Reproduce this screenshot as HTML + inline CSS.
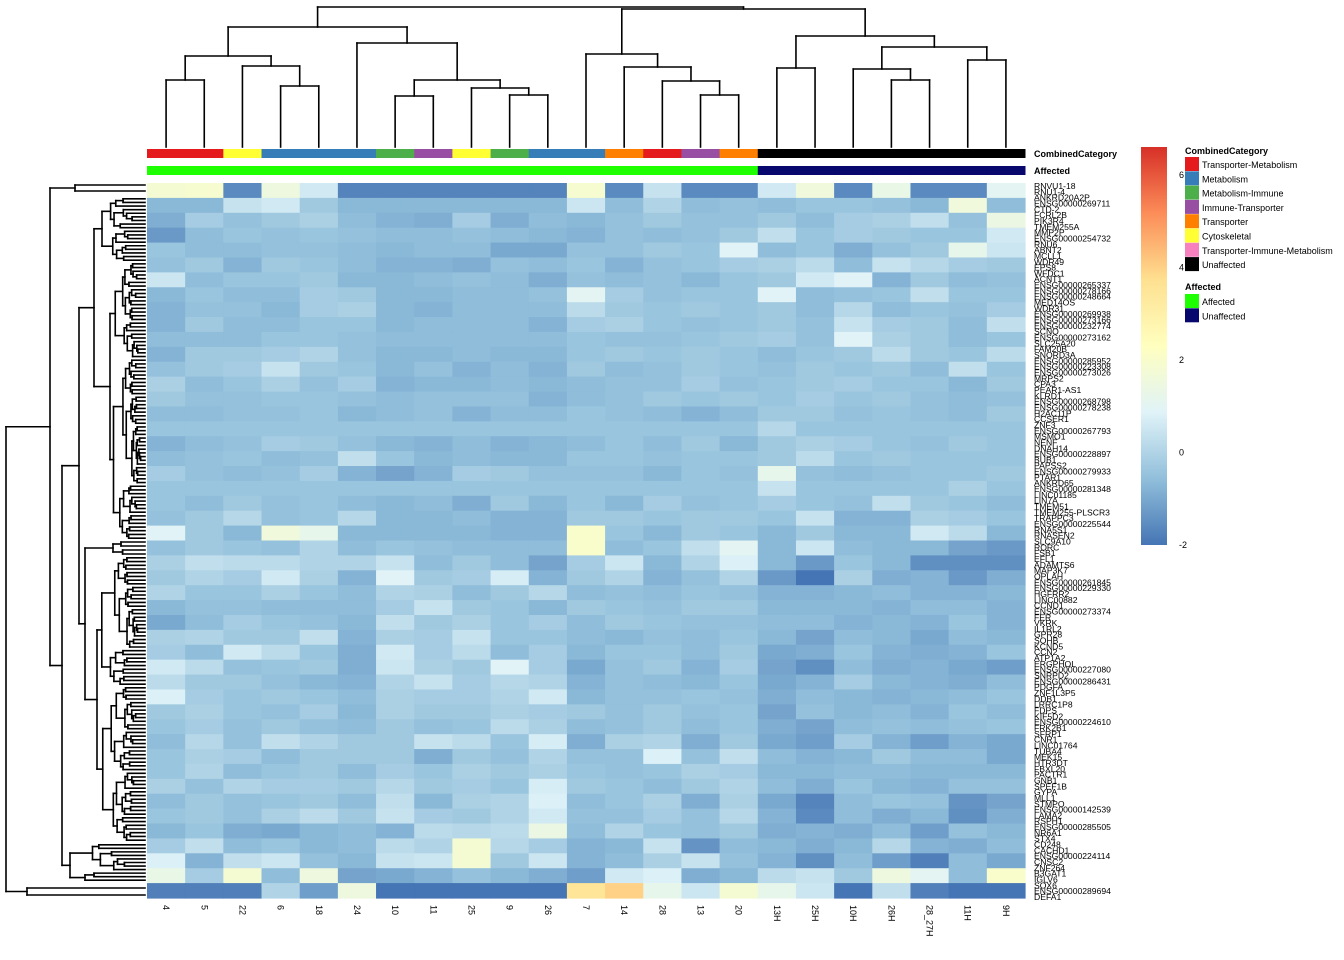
<!DOCTYPE html>
<html><head><meta charset="utf-8"><style>
html,body{margin:0;padding:0;background:#fff;}
svg{display:block;font-family:"Liberation Sans",Arial,sans-serif;}
</style></head><body>
<svg id="chart" width="1344" height="960" viewBox="0 0 1344 960" xmlns="http://www.w3.org/2000/svg">
<g id="dendroTop"></g>
<g id="dendroLeft"></g>
<g id="annot"></g>
<g id="cells"></g>
<g id="rowLabels"></g>
<g id="colLabels"></g>
<g id="legend"></g>
</svg>
<script>
const columns = ["4","5","22","6","18","24","10","11","25","9","26","7","14","28","13","20","13H","25H","10H","26H","28_27H","11H","9H"];
const columnCategory = ["Transporter-Metabolism","Transporter-Metabolism","Cytoskeletal","Metabolism","Metabolism","Metabolism","Metabolism-Immune","Immune-Transporter","Cytoskeletal","Metabolism-Immune","Metabolism","Metabolism","Transporter","Transporter-Metabolism","Immune-Transporter","Transporter","Unaffected","Unaffected","Unaffected","Unaffected","Unaffected","Unaffected","Unaffected"];
const columnAffected = ["Affected","Affected","Affected","Affected","Affected","Affected","Affected","Affected","Affected","Affected","Affected","Affected","Affected","Affected","Affected","Affected","Unaffected","Unaffected","Unaffected","Unaffected","Unaffected","Unaffected","Unaffected"];
const categoryNames = ["Transporter-Metabolism","Metabolism","Metabolism-Immune","Immune-Transporter","Transporter","Cytoskeletal","Transporter-Immune-Metabolism","Unaffected"];
const categoryColors = ["#e41a1c","#377eb8","#4daf4a","#984ea3","#ff7f00","#ffff33","#f781bf","#000000"];
const affectedNames = ["Affected","Unaffected"];
const affectedColors = ["#1eff00","#07076e"];
const scaleTicks = [6,4,2,0,-2];
const rowNames = ["RNVU1-18","RNU1-4","ANKRD20A2P","ENSG00000269711","CTD-2","FCRL2B","PIK3R4","TMEM255A","MMP2P","ENSG00000254732","RNU6","ABNT2","MCLL1","WDR49","EPS8","WFDC1","ACNT1","ENSG00000265337","ENSG00000278166","ENSG00000248664","MED14OS","WDR31","ENSG00000269938","ENSG00000273166","ENSG00000232774","SCNO","ENSG00000273162","SLC25A20","FAM20B","SNORD3A","ENSG00000285952","ENSG00000223308","ENSG00000273026","MRPS2","CPA3","PEAR1-AS1","KLRD1","ENSG00000268798","ENSG00000278238","H2AC11P","CCSER1","ZNF3","ENSG00000267793","MSMO1","NENF","DNAH14","ENSG00000228897","BUB1","PAPSS2","ENSG00000279933","PTAR1","ANKRD65","ENSG00000281348","LINC01185","LIN7A","TMEM51","TMEM255-PLSCR3","TRAPPC3","ENSG00000225544","RNA5S1","RNASEN2","SLC9A10","RORC","FSB1","EFL1","ADAMTS6","MAP3K7","OPLAH","ENSG00000261845","ENSG00000229330","HGFRR2","LINC00882","CCND1","ENSG00000273374","FER","VKRK","IL1RL2","GPR28","SOHB","KCND5","CCN2","ATP1A2","ERGPHOL","ENSG00000227080","SNRPD2","ENSG00000286431","PDGFA","ZNF1L3P5","DDB1","LRRC1P8","FDPS","KIF5D2","ENSG00000224610","FRK2B1","SFRP1","CNR1","LINC01764","TUBA4","MEK15","HTR3DT","FBXL20","PACTR1","GNB1","SPEF1B","GYPA","MLL1","STMPO","ENSG00000142539","LAMA2","RSPH1","ENSG00000285505","NR6A1","STX4","CD248","CACHD1","ENSG00000224114","CNSC2","ZNF264","B3GAT1","IGLV6","SOX6","ENSG00000289694","DEFA1"];
const values = [
[1.8,1.9,-1.6,1.5,0.6,-1.7,-1.7,-1.7,-1.7,-1.7,-1.7,1.9,-1.6,0.4,-1.6,-1.6,0.6,1.6,-1.6,1.3,-1.6,-1.6,1.0],
[-0.7,-0.7,0.4,0.6,-0.3,-0.7,-0.7,-0.7,-0.7,-0.7,-0.7,0.5,-0.6,0,-0.6,-0.5,-0.6,-0.4,-0.4,-0.5,-0.7,1.6,-0.6],
[-0.9,-0.2,-0.5,-0.3,-0.1,-0.6,-0.8,-0.9,-0.2,-0.9,-0.6,-0.7,-0.5,-0.3,-0.5,-0.5,-0.3,-0.6,-0.2,-0.1,0.3,-0.5,1.4],
[-1.3,-0.6,-0.4,-0.5,-0.4,-0.5,-0.6,-0.6,-0.5,-0.6,-0.7,-0.8,-0.5,-0.6,-0.5,-0.3,0.3,-0.4,-0.2,-0.3,-0.4,-0.4,0.6],
[-0.4,-0.6,-0.6,-0.5,-0.5,-0.6,-0.7,-0.6,-0.6,-1.0,-1.0,-0.5,-0.5,-0.3,-0.4,0.9,-0.6,-0.4,-0.9,-0.5,-0.3,1.2,0.5],
[-0.5,-0.3,-0.8,-0.3,-0.4,-0.6,-0.8,-0.8,-0.9,-0.5,-0.6,-0.4,-0.8,-0.5,-0.4,-0.2,-0.1,0.2,-0.6,0.4,0.1,-0.2,-0.3],
[0.5,-0.6,-0.4,-0.4,-0.3,-0.7,-0.7,-0.6,-0.5,-0.6,-0.9,-0.5,-0.6,-0.5,-0.7,-0.4,-0.3,0.6,0.9,-0.8,-0.3,-0.6,-0.5],
[-0.7,-0.4,-0.6,-0.6,-0.2,-0.3,-0.7,-0.7,-0.6,-0.6,-0.5,1.0,-0.2,-0.5,-0.4,-0.4,0.9,-0.6,-0.5,-0.4,0.3,-0.4,-0.4],
[-0.8,-0.5,-0.5,-0.7,-0.2,-0.1,-0.7,-0.8,-0.6,-0.6,-0.6,0.2,-0.3,-0.4,-0.3,-0.4,-0.3,-0.6,0.1,-0.6,-0.4,-0.5,-0.2],
[-0.8,-0.3,-0.6,-0.6,-0.4,-0.4,-0.7,-0.6,-0.6,-0.6,-0.8,-0.2,-0.1,-0.4,-0.5,-0.4,-0.3,-0.5,0.4,-0.2,-0.3,-0.6,0.3],
[-0.6,-0.6,-0.6,-0.4,-0.4,-0.5,-0.6,-0.6,-0.6,-0.6,-0.6,-0.4,-0.5,-0.5,-0.4,-0.3,-0.2,-0.5,0.9,-0.1,-0.3,-0.6,-0.4],
[-0.8,-0.3,-0.3,-0.2,0,-0.5,-0.7,-0.7,-0.6,-0.7,-0.7,-0.4,-0.3,-0.4,-0.3,-0.4,-0.6,-0.4,-0.3,0.2,-0.3,-0.4,0.2],
[-0.5,-0.3,-0.2,0.4,-0.3,-0.4,-0.7,-0.5,-0.8,-0.6,-0.8,-0.3,-0.6,-0.5,-0.3,-0.4,-0.5,-0.3,-0.4,-0.3,-0.6,0.3,-0.4],
[-0.1,-0.6,-0.4,-0.1,-0.5,-0.2,-0.8,-0.7,-0.7,-0.6,-0.7,-0.6,-0.5,-0.5,-0.2,-0.5,-0.4,-0.3,-0.2,-0.4,-0.4,-0.7,-0.3],
[-0.3,-0.5,-0.5,-0.4,-0.4,-0.5,-0.6,-0.5,-0.5,-0.5,-0.8,-0.6,-0.5,-0.3,-0.4,-0.3,-0.4,-0.2,-0.4,-0.3,-0.5,-0.6,-0.5],
[-0.6,-0.6,-0.5,-0.5,-0.4,-0.7,-0.6,-0.5,-0.8,-0.6,-0.6,-0.4,-0.5,-0.6,-0.8,-0.6,-0.3,-0.3,-0.5,-0.4,-0.5,-0.6,-0.3],
[-0.4,-0.4,-0.4,-0.4,-0.4,-0.4,-0.4,-0.4,-0.4,-0.4,-0.4,-0.4,-0.4,-0.4,-0.4,-0.4,0.1,-0.4,-0.4,-0.4,-0.4,-0.4,-0.4],
[-0.8,-0.6,-0.5,-0.2,-0.3,-0.5,-0.7,-0.8,-0.6,-0.8,-0.7,-0.6,-0.4,-0.6,-0.3,-0.7,-0.3,-0.1,-0.2,-0.4,-0.5,-0.3,-0.4],
[-0.6,-0.5,-0.4,-0.6,-0.5,0.3,-0.4,-0.7,-0.6,-0.7,-0.7,-0.4,-0.4,-0.5,-0.4,-0.4,-0.3,0.2,-0.4,-0.3,-0.4,-0.4,-0.4],
[-0.2,-0.5,-0.6,-0.5,-0.2,-0.8,-1.1,-0.8,-0.2,-0.3,-0.5,-0.5,-0.5,-0.7,-0.4,-0.5,1.2,-0.5,-0.6,-0.5,-0.4,-0.4,-0.3],
[-0.4,-0.4,-0.4,-0.4,-0.4,-0.4,-0.4,-0.4,-0.4,-0.4,-0.4,-0.4,-0.4,-0.4,-0.4,-0.4,0.4,-0.4,-0.4,-0.4,-0.4,-0.1,-0.4],
[-0.4,-0.6,-0.3,-0.5,-0.4,-0.6,-0.7,-0.6,-0.9,-0.3,-0.7,-0.4,-0.7,-0.2,-0.5,-0.4,-0.2,-0.4,-0.5,0.3,-0.3,-0.4,-0.6],
[-0.5,-0.3,0.1,-0.5,-0.4,0.1,-0.7,-0.7,-0.6,-0.8,-0.8,-0.3,-0.3,-0.4,-0.3,-0.3,-0.4,0.4,-0.8,-0.8,-0.1,-0.2,-0.4],
[0.9,-0.3,-0.7,1.6,1.2,-0.7,-0.7,-0.7,-0.7,-0.8,-0.8,2.0,-0.4,-0.7,-0.3,-0.4,-0.7,-0.3,-0.7,-0.7,0.6,0.2,-0.7],
[-0.5,-0.3,-0.4,-0.5,0,-0.6,-0.4,-0.5,-0.6,-0.6,-0.6,2.0,-0.6,-0.4,0.3,1.0,-0.7,0.5,-0.6,-0.7,-0.7,-1.1,-1.3],
[-0.1,0.3,0.2,0.2,0,0,0.4,-0.6,-0.3,-0.6,-1.1,-0.2,0.5,-0.7,0,0.8,-0.7,-1.3,-0.4,-0.7,-1.5,-1.5,-1.5],
[-0.3,0,-0.2,0.6,-0.1,-0.8,0.9,-0.3,-0.2,0.7,-0.8,-0.3,0,-0.8,-0.5,0,-1.3,-2,-0.1,-0.9,-0.8,-1.3,-0.9],
[0,-0.4,-0.4,-0.1,-0.4,-0.6,0,-0.1,-0.6,-0.3,0.1,-0.6,-0.5,-0.6,-0.4,-0.5,-0.8,-0.8,-0.7,-0.6,-0.8,-0.8,-0.7],
[-0.7,-0.5,-0.5,-0.6,-0.6,-0.6,-0.2,0.4,-0.3,-0.4,-0.7,-0.3,-0.4,-0.5,-0.3,-0.3,-0.7,-0.7,-0.7,-0.8,-0.6,-0.6,-0.8],
[-1,-0.6,-0.2,-0.4,-0.5,-0.7,0.3,-0.3,-0.1,-0.4,-0.2,-0.6,-0.3,-0.4,-0.5,-0.5,-0.6,-0.6,-0.8,-0.7,-0.8,-0.4,-0.8],
[-0.1,0,-0.3,-0.3,0.3,-0.8,-0.1,-0.2,0.4,-0.4,-0.4,-0.6,-0.7,-0.5,-0.6,-0.4,-0.7,-1.1,-0.6,-0.7,-1.0,-0.6,-0.7],
[-0.2,-0.6,0.6,0.2,-0.4,-0.9,0.6,-0.2,0.2,-0.6,-0.2,-0.7,-0.4,-0.4,-0.6,-0.3,-1.0,-0.9,-0.4,-0.8,-0.9,-0.8,-0.4],
[0.6,0.2,-0.5,-0.4,-0.3,-0.9,0.5,-0.1,-0.3,0.9,-0.2,-1.0,-0.5,-0.3,-0.8,-0.2,-1.1,-1.5,-0.6,-0.9,-0.8,-1.0,-1.2],
[0.2,-0.3,-0.3,-0.5,-0.7,-0.8,0,0.4,-0.2,0.1,0,-0.8,-0.5,-0.6,-0.7,-0.4,-1.0,-0.8,-0.2,-0.7,-0.8,-0.9,-0.6],
[0.8,-0.2,-0.4,-0.3,-0.4,-0.6,-0.1,-0.2,-0.2,0,0.6,-0.7,-0.5,-0.5,-0.4,-0.5,-0.9,-0.6,-0.7,-0.8,-0.7,-0.6,-0.4],
[-0.3,-0.1,-0.4,-0.5,-0.2,-0.7,-0.1,-0.3,-0.3,-0.1,-0.2,-0.3,-0.5,-0.3,-0.5,-0.4,-1.1,-0.5,-0.7,-0.6,-0.8,-0.4,-0.6],
[-0.4,-0.2,-0.5,-0.3,-0.5,-0.6,-0.3,-0.5,-0.4,0.2,-0.1,-0.6,-0.5,-0.3,-0.6,-0.4,-0.9,-1.1,-0.6,-0.5,-0.6,-0.5,-0.4],
[-0.6,0.1,-0.5,0.3,0,-0.3,-0.3,0.4,0.2,-0.4,0.7,-0.9,-0.1,0,-0.9,-0.3,-1.0,-1.2,-0.2,-0.8,-1.2,-0.8,-1.0],
[-0.4,-0.1,-0.2,-0.6,-0.3,-0.3,-0.3,-0.9,-0.3,-0.5,0,-0.5,-0.5,0.8,-0.5,0.3,-0.6,-0.8,-0.7,-0.3,-0.6,-0.6,-1.0],
[-0.4,0,-0.6,-0.4,-0.3,-0.6,-0.2,-0.4,-0.1,-0.3,-0.1,-0.4,-0.5,-0.4,-0.1,-0.2,-0.7,-0.7,-0.6,-0.6,-0.7,-0.7,-0.7],
[-0.1,-0.5,0,-0.2,-0.2,-0.3,0.1,-0.3,-0.2,-0.4,0.7,-0.3,-0.4,-0.6,-0.3,0,-0.6,-0.9,-0.4,-0.7,-0.8,-0.5,-0.5],
[-0.6,-0.3,-0.5,-0.4,-0.3,-0.6,0.3,-0.7,-0.1,0,0.8,-0.6,-0.4,-0.1,-0.9,-0.1,-1.0,-1.7,-0.6,-0.4,-0.5,-1.4,-1.1],
[-0.4,-0.3,-0.5,-0.1,0.2,-0.3,0.4,-0.2,-0.3,0,0.6,-0.5,-0.5,-0.2,-0.5,0.1,-0.8,-1.6,-0.6,-0.9,-0.7,-1.5,-0.9],
[-0.7,-0.4,-0.9,-1.0,-0.7,-0.6,-0.8,0.2,0.1,0.2,1.4,-0.6,0,-0.4,-0.5,-0.3,-0.9,-0.8,-0.9,-0.6,-1.2,-0.5,-0.7],
[-0.2,0.3,-0.6,-0.4,-0.7,-0.6,0.2,0,1.8,0.1,-0.2,-0.8,-0.7,0.4,-1.4,-0.6,-0.7,-0.9,-0.7,0.1,-0.8,-0.9,-0.6],
[0.8,-0.8,0.3,0.5,-0.5,-0.7,0.4,0.5,1.8,-0.3,0.5,-0.8,-0.6,-0.1,0.4,-0.5,-0.8,-1.5,-0.6,-1.2,-1.8,-0.6,-1.0],
[1.3,-0.2,1.8,-0.6,1.5,-1.1,-1.0,-0.8,-0.5,-0.7,-0.9,-1.2,0.6,0.8,-0.9,-0.7,0.2,0.4,-0.3,1.5,1.0,-0.6,2.0],
[-1.8,-1.8,-1.8,0,-1.2,1.5,-2,-2,-2,-2,-2,3.5,4,1.2,0.5,1.8,1.2,0.5,-2,0.3,-1.8,-2,-2]
];
const colMerges = [[0,1,80],[3,4,86],[2,24,66],[23,25,56],[6,7,96],[9,10,95],[8,28,88],[27,29,80],[5,30,43],[26,31,27],[14,15,95],[13,33,81],[12,34,67],[11,35,54],[16,17,68],[19,20,80],[18,38,69],[21,22,60],[39,40,47],[37,41,36],[36,42,9],[32,43,7]];

const NS="http://www.w3.org/2000/svg";
function mk(tag, attrs, parent){const e=document.createElementNS(NS,tag);for(const k in attrs)e.setAttribute(k,attrs[k]);parent.appendChild(e);return e;}
const X0=147, X1=1025, Y0=183, Y1=898;
const cw=(X1-X0)/columns.length, rh=(Y1-Y0)/values.length;
const vMin=-2, vMax=6.6;
const stops=["#4575b4","#91bfdb","#e0f3f8","#ffffbf","#fee090","#fc8d59","#d73027"];
function hex(c){return [1,3,5].map(i=>parseInt(c.substr(i,2),16));}
function color(v){let t=(v-vMin)/(vMax-vMin);t=Math.max(0,Math.min(1,t));const p=t*(stops.length-1);const i=Math.min(stops.length-2,Math.floor(p));const f=p-i;const a=hex(stops[i]),b=hex(stops[i+1]);return "rgb("+a.map((x,k)=>Math.round(x+(b[k]-x)*f)).join(",")+")";}
function xCol(i){return X0+i*cw;}
function yRow(r){return Y0+r*rh;}

const cells=document.getElementById('cells');
values.forEach((row,r)=>row.forEach((v,c)=>{
  const e=mk('rect',{x:xCol(c).toFixed(2),y:yRow(r).toFixed(2),width:(cw+0.6).toFixed(2),height:(rh+0.6).toFixed(2),fill:color(v)},cells);
  
  
}));

const annot=document.getElementById('annot');
columns.forEach((c,i)=>{
  const a=mk('rect',{x:xCol(i).toFixed(2),y:149,width:(cw+0.5).toFixed(2),height:9,fill:categoryColors[categoryNames.indexOf(columnCategory[i])]},annot);
  
  
  const b=mk('rect',{x:xCol(i).toFixed(2),y:166,width:(cw+0.5).toFixed(2),height:9,fill:affectedColors[affectedNames.indexOf(columnAffected[i])]},annot);
  
  
});
[["CombinedCategory",157],["Affected",174]].forEach(([t,y])=>{
  const e=mk('text',{x:1034,y:y,'font-size':9,'font-weight':'bold',fill:'#000'},annot);e.textContent=t;
  
  
});

const colLabels=document.getElementById('colLabels');
columns.forEach((c,i)=>{
  const x=xCol(i)+cw/2-3;
  const e=mk('text',{x:x,y:905,'font-size':9,fill:'#000',transform:`rotate(90 ${x} 905)`},colLabels);
  e.textContent=c;
  
  
});

const rowLabels=document.getElementById('rowLabels');
const lh=(897-186)/(rowNames.length-1);
rowNames.forEach((n,i)=>{
  const e=mk('text',{x:1034,y:(186+i*lh+3).toFixed(1),'font-size':8.6,fill:'#000'},rowLabels);
  e.textContent=n;
  
  
});

const dt=document.getElementById('dendroTop');
function L(g,x1,y1,x2,y2){mk('line',{x1:x1,y1:y1,x2:x2,y2:y2,stroke:'#000','stroke-width':1.6,'stroke-linecap':'square'},g);}
const nodes=columns.map((c,i)=>({x:xCol(i)+cw/2,y:147}));
colMerges.forEach(([a,b,h])=>{
  const A=nodes[a],B=nodes[b];
  L(dt,A.x,A.y,A.x,h);L(dt,B.x,B.y,B.x,h);L(dt,A.x,h,B.x,h);
  nodes.push({x:(A.x+B.x)/2,y:h});
});

const dl=document.getElementById('dendroLeft');
const XL=145, rs=3.7;
const sp=[0.5,0.35,0.62,0.45,0.7,0.3,0.55], fr=[0.12,0.2,0.15,0.25,0.1,0.3];
function sub(y0,y1,x,d){const n=Math.round((y1-y0)/rs);if(n<=1){const y=(y0+y1)/2;L(dl,x,y,XL,y);return y;}
  const xn=x+(XL-x)*fr[d%fr.length];const y=inner(y0,y1,xn,d);L(dl,x,y,xn,y);return y;}
function inner(y0,y1,x,d){const n=Math.round((y1-y0)/rs);if(n<=1){const y=(y0+y1)/2;L(dl,x,y,XL,y);return y;}
  const k=Math.max(1,Math.min(n-1,Math.round(n*sp[d%sp.length])));const s=y0+(y1-y0)*k/n;
  const a=sub(y0,s,x,d+1),b=sub(s,y1,x,d+3);L(dl,x,a,x,b);return (a+b)/2;}
function join(x,ya,yb,xa,xb){L(dl,x,ya,x,yb);L(dl,x,ya,xa,ya);L(dl,x,yb,xb,yb);return (ya+yb)/2;}
const yT=join(75,185,191,XL,XL);
const yC=join(94,inner(197,262,102,0),inner(262,540,110,1),102,110);
const yD=join(85,inner(540,556,113,2),inner(556,842,97,3),113,97);
const yA=join(79,yC,yD,94,85);
const yB=inner(843,882,70,4);
const yR=join(62,yA,yB,79,70);
const yP=join(50,yT,yR,75,62);
const yQ=join(27,888,895,XL,XL);
join(6,yP,yQ,50,27);

const lg=document.getElementById('legend');
const grad=mk('defs',{},lg);
const lin=mk('linearGradient',{id:'cg',x1:0,y1:1,x2:0,y2:0},grad);
stops.forEach((s,i)=>mk('stop',{offset:i/(stops.length-1),'stop-color':s},lin));
const cb=mk('rect',{x:1141,y:147,width:26,height:398,fill:'url(#cg)'},lg);


function yScale(v){return 545-(v-vMin)/(vMax-vMin)*398;}
scaleTicks.forEach(t=>{
  const e=mk('text',{x:1179,y:(yScale(t)+3).toFixed(1),'font-size':9,fill:'#000'},lg);e.textContent=t;
  
  
});
const t1=mk('text',{x:1185,y:154,'font-size':9,'font-weight':'bold'},lg);t1.textContent="CombinedCategory";


categoryNames.forEach((n,i)=>{
  const y=157+i*14.3;
  const r=mk('rect',{x:1185,y:y,width:14,height:14,fill:categoryColors[i]},lg);
  
  
  const e=mk('text',{x:1202,y:y+11,'font-size':9},lg);e.textContent=n;
  
  
});
const t2=mk('text',{x:1185,y:290,'font-size':9,'font-weight':'bold'},lg);t2.textContent="Affected";


affectedNames.forEach((n,i)=>{
  const y=294+i*14.3;
  const r=mk('rect',{x:1185,y:y,width:14,height:14,fill:affectedColors[i]},lg);
  
  
  const e=mk('text',{x:1202,y:y+11,'font-size':9},lg);e.textContent=n;
  
  
});
</script>
</body></html>
